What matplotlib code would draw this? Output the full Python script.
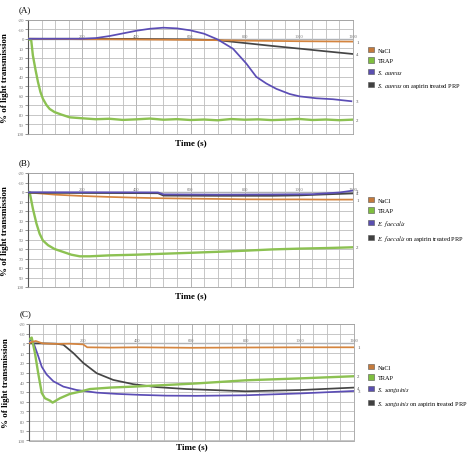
import matplotlib.pyplot as plt
from matplotlib.patches import Patch

plt.rcParams['font.family'] = ['Liberation Serif', 'DejaVu Serif']
plt.rcParams['mathtext.fontset'] = 'stix'

# =========================
# Data (time in s, % of light transmission)
# =========================

# Panel A - S. aureus
a_nacl_t = [0, 100, 200, 300, 400, 500, 600, 700, 800, 900, 1000, 1100, 1200]
a_nacl_y = [0, 0.3, 0.5, 0.6, 0.8, 1.0, 1.2, 1.5, 2.0, 2.3, 2.6, 2.8, 3.0]

a_trap_t = [0, 12, 18, 28, 37, 46, 55, 68, 80, 98, 123, 154, 200,
            250, 300, 350, 400, 450, 500, 550, 600, 650, 700, 750, 800,
            850, 900, 950, 1000, 1050, 1100, 1150, 1200]
a_trap_y = [0, 1.8, 17.5, 33, 45.6, 56, 63, 69.5, 73.7, 77, 79.6, 82.5, 83.5,
            84.5, 84.0, 85.2, 84.6, 83.8, 85.0, 84.4, 85.3, 84.8, 85.6, 84.3, 85.0,
            84.6, 85.4, 84.9, 84.2, 85.3, 84.8, 85.5, 84.9]

a_bact_t = [0, 100, 200, 250, 300, 350, 400, 450, 500, 550, 600, 650, 700,
            757, 806, 843, 880, 917, 966, 1003, 1065, 1126, 1194]
a_bact_y = [0, 0, 0, -0.7, -2.8, -5.6, -8.4, -10.5, -11.6, -10.9, -8.8, -5.3, 0.7,
            10.5, 26, 40, 47, 52.6, 58, 60.5, 62.5, 63.5, 65.6]

a_asp_t = [0, 200, 400, 600, 700, 800, 900, 1000, 1100, 1200]
a_asp_y = [0, 0, 0.2, 0.6, 1.5, 4.5, 7.5, 10.3, 13.2, 16.0]

# Panel B - E. faecalis
b_nacl_t = [0, 100, 200, 300, 400, 500, 600, 700, 800, 900, 1000, 1100, 1200]
b_nacl_y = [0.5, 2.8, 4.2, 5.2, 6.0, 6.6, 7.0, 7.3, 7.7, 7.8, 7.8, 8.0, 8.0]

b_trap_t = [0, 6, 18, 31, 43, 55, 74, 98, 129, 160, 191, 228, 301, 400,
            498, 600, 695, 800, 905, 1003, 1102, 1200]
b_trap_y = [0, 0, 17.5, 33, 44, 51, 56, 60, 63, 66, 67.7, 67.7, 66.7, 66,
            65, 64, 63, 61.8, 60.4, 59.6, 59, 58.2]

b_bact_t = [0, 200, 400, 480, 500, 700, 900, 1050, 1150, 1200]
b_bact_y = [0.3, 0.3, 0.4, 0.5, 2.5, 2.8, 2.6, 2.3, 0.5, -1.5]

b_asp_t = [0, 200, 400, 480, 500, 700, 900, 1000, 1100, 1200]
b_asp_y = [0.8, 1.0, 1.2, 1.3, 3.8, 4.0, 4.0, 3.6, 2.5, 1.5]

# Panel C - S. sanguinis
c_nacl_t = [0, 10, 25, 50, 100, 150, 200, 215, 300, 400, 600, 800, 1000, 1200]
c_nacl_y = [0, -1.5, -2.5, 0, 0.5, 0.3, 1.0, 4.0, 4.3, 4.0, 4.5, 4.2, 4.0, 4.0]

c_trap_t = [0, 10, 22, 34, 47, 59, 78, 87, 114, 151, 188, 225, 300, 385,
            508, 619, 800, 1003, 1200]
c_trap_y = [-4, -6, 10, 30.7, 51, 56.5, 59, 61, 56.5, 52, 49.7, 47, 45.5, 44.5,
            42.8, 41.2, 38, 36, 33.8]

c_bact_t = [0, 10, 20, 34, 47, 65, 90, 127, 176, 250, 324, 410, 508, 619,
            800, 1003, 1200]
c_bact_y = [-2, -4, 2, 13, 24, 32, 39, 44.5, 48, 50.7, 52, 53, 53.8, 54,
            53.4, 51.5, 49]

c_asp_t = [0, 50, 100, 127, 164, 200, 250, 311, 385, 471, 582, 800, 1003, 1200]
c_asp_y = [0, 0, 0.3, 1.4, 10, 20, 30.7, 37.6, 42, 45, 47, 49.3, 48, 45.5]

y_ticks = [-20, -10, 0, 10, 20, 30, 40, 50, 60, 70, 80, 90, 100]
x_top_labels = [200, 400, 600, 800, 1000, 1200]

legend_a = ['NaCl', 'TRAP', r'$\it{S.\ aureus}$',
            r'$\it{S.\ aureus}$ on aspirin treated PRP']
legend_b = ['NaCl', 'TRAP', r'$\it{E.\ faecalis}$',
            r'$\it{E.\ faecalis}$ on aspirin treated PRP']
legend_c = ['NaCl', 'TRAP', r'$\it{S.\ sanguinis}$',
            r'$\it{S.\ sanguinis}$ on aspirin treated PRP']

line_colors = ['#d4843e', '#8cc152', '#5b4db5', '#454545']
patch_colors = ['#c47a3c', '#7fbf3f', '#5a4fb0', '#404040']


# =========================
# Functions
# =========================
def draw_panel(ax, series, order, tag, xlabel_y):
    """Draw one aggregometry panel: grid, zero line, four traces."""

    ax.set_xlim(0, 1200)
    ax.set_ylim(100, -20)

    ax.set_xticks(range(0, 1201, 50))
    ax.set_yticks(y_ticks)
    ax.set_xticklabels([])
    ax.set_yticklabels([str(v) for v in y_ticks])
    ax.tick_params(axis='x', length=0)
    ax.tick_params(axis='y', length=2, width=0.5, pad=1, labelsize=3.5,
                   labelcolor='#777777', color='#666666')
    ax.grid(True, color='#bdbdbd', lw=0.6)
    for xv in x_top_labels[:-1]:
        ax.axvline(xv, color='#949494', lw=0.7, zorder=0.5)

    for side in ['top', 'right', 'bottom']:
        ax.spines[side].set_color('#a0a0a0')
        ax.spines[side].set_linewidth(0.6)
    ax.spines['left'].set_color('#555555')
    ax.spines['left'].set_linewidth(0.8)

    ax.axhline(0, color='#6f7c90', lw=0.9, zorder=1)
    for xv in x_top_labels:
        ax.text(xv, -1.2, str(xv), ha='center', va='bottom', fontsize=3.2,
                color='#777777')

    for i in order:
        t, y = series[i]
        lw = 1.7 if i == 1 else 1.25
        ax.plot(t, y, color=line_colors[i], lw=lw, zorder=2 + order.index(i))

    for i, num in enumerate(['1', '2', '3', '4']):
        t, y = series[i]
        ax.text(1212, y[-1], num, fontsize=3.5, color='#555555',
                va='center', ha='left', clip_on=False)

    ax.set_ylabel('% of light transmission', fontsize=6.5, fontweight='bold')
    ax.yaxis.set_label_coords(-0.058, 0.5)
    ax.set_xlabel('Time (s)', fontsize=6.5, fontweight='bold')
    ax.xaxis.set_label_coords(0.5, xlabel_y)

    ax.text(-0.03, 1.06, tag, transform=ax.transAxes, fontsize=6.5,
            ha='left', va='bottom')


def add_legend(fig, labels, top):
    handles = [Patch(facecolor=c, edgecolor='#555555', lw=0.4)
               for c in patch_colors]
    fig.legend(handles, labels, loc='upper left',
               bbox_to_anchor=(368 / 474, top), frameon=False,
               fontsize=4.5, handlelength=0.9, handleheight=0.9,
               handletextpad=0.6, labelspacing=0.75, borderpad=0,
               borderaxespad=0)


# =========================
# Plot
# =========================
fig = plt.figure(figsize=(4.74, 4.56), dpi=100)

ax_a = fig.add_axes([28 / 474, 321 / 456, 325 / 474, 114.3 / 456])
ax_b = fig.add_axes([28 / 474, 168 / 456, 325 / 474, 114 / 456])
ax_c = fig.add_axes([29 / 474, 14.5 / 456, 325 / 474, 116.5 / 456])

series_a = [(a_nacl_t, a_nacl_y), (a_trap_t, a_trap_y),
            (a_bact_t, a_bact_y), (a_asp_t, a_asp_y)]
series_b = [(b_nacl_t, b_nacl_y), (b_trap_t, b_trap_y),
            (b_bact_t, b_bact_y), (b_asp_t, b_asp_y)]
series_c = [(c_nacl_t, c_nacl_y), (c_trap_t, c_trap_y),
            (c_bact_t, c_bact_y), (c_asp_t, c_asp_y)]

draw_panel(ax_a, series_a, [3, 0, 1, 2], '(A)', -0.04)
draw_panel(ax_b, series_b, [0, 1, 3, 2], '(B)', -0.04)
draw_panel(ax_c, series_c, [3, 2, 1, 0], '(C)', -0.012)

add_legend(fig, legend_a, (456 - 48) / 456)
add_legend(fig, legend_b, (456 - 198) / 456)
add_legend(fig, legend_c, (456 - 365) / 456)

fig.savefig('out.png', dpi=100, facecolor='white')
